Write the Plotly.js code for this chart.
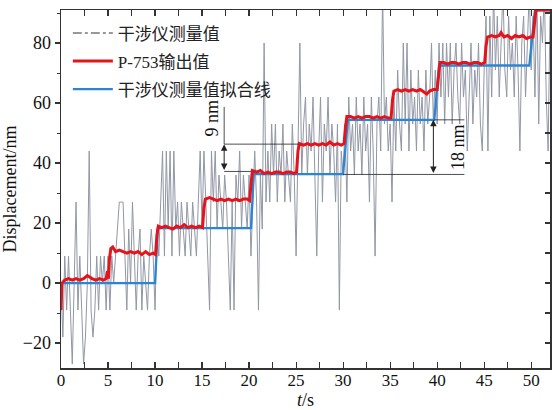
<!DOCTYPE html>
<html>
<head>
<meta charset="utf-8">
<script src="https://cdn.plot.ly/plotly-3.0.1.min.js"></script>
<style>html,body{margin:0;padding:0;background:#fff;}#chart{width:552px;height:410px;}</style>
</head>
<body>
<div id="chart"></div>
<script>
// ---- data ----
const grayT0 = 0;
const grayDt = 0.2;
const grayY = [
  0,-18,9,-9,9,-9,-27,0,27,-9,9,-9,-27,-18,0,44,-9,-18,-9,9,-9,9,0,9,-9,
  9,-9,9,0,9,18,27,27,27,9,-9,18,0,27,9,-9,9,18,-9,9,0,-9,9,18,9,
  -9,18,9,27,44,9,44,18,44,9,44,18,27,9,27,18,9,27,18,9,27,18,9,27,44,
  18,44,27,9,-9,44,27,44,18,36,27,18,36,27,9,-9,27,-9,36,27,44,18,36,27,18,
  36,9,27,44,27,-9,36,18,80,27,44,27,53,36,53,27,44,36,53,27,44,36,27,53,36,
  9,44,80,36,53,62,36,53,44,62,36,9,44,62,27,53,44,62,36,53,44,27,53,-9,44,
  36,53,27,62,44,53,36,62,44,53,36,62,44,53,27,62,44,9,53,62,44,98,53,62,44,
  53,27,62,44,71,53,44,80,53,80,44,71,53,62,44,71,53,62,44,71,53,62,80,53,71,
  53,80,62,80,53,80,62,80,53,71,80,62,53,80,62,71,44,62,80,53,71,62,80,53,44,
  71,89,44,89,62,98,71,89,62,80,98,71,62,89,71,80,62,89,71,44,80,89,62,80,98,
  71,89,62,98,53,89,80,98,62,44,89
];

const redT = [0,0.1,0.4,0.8,1.2,1.6,2.0,2.4,2.8,3.0,3.3,3.7,4.1,4.5,4.8,4.95,5.05,5.15,5.3,5.5,5.8,6.2,6.6,7.0,7.4,7.8,8.2,8.6,9.0,9.4,9.8,10.05,10.2,10.35,10.7,11.1,11.5,11.9,12.3,12.7,13.1,13.5,13.9,14.3,14.7,15.05,15.2,15.35,15.8,16.2,16.6,17.0,17.4,17.8,18.2,18.6,19.0,19.4,19.8,20.05,20.2,20.35,20.8,21.2,21.6,22.0,22.4,22.8,23.2,23.6,24.0,24.4,24.8,25.05,25.2,25.35,25.8,26.2,26.6,27.0,27.4,27.8,28.2,28.6,29.0,29.4,29.8,30.1,30.25,30.4,30.8,31.2,31.6,32.0,32.4,32.8,33.2,33.6,34.0,34.4,34.8,35.1,35.25,35.4,35.8,36.2,36.6,37.0,37.4,37.8,38.2,38.6,38.9,39.2,39.6,40.0,40.15,40.3,40.7,41.1,41.5,41.9,42.3,42.7,43.1,43.5,43.9,44.3,44.7,45.05,45.2,45.35,45.8,46.2,46.6,46.8,47.1,47.5,47.9,48.3,48.7,49.1,49.5,49.9,50.2,50.35,50.5,51,52];
const redY = [-9,0,1,1.5,1,1.5,1,1.5,2.5,2,1.5,1,1.5,1,1.5,4,1.5,8,11.5,12,10.5,11,10.5,10,10.5,10,10.5,9.5,10.5,9.5,10,9.5,16,19,18.5,19,18.5,18,19,18.5,19.5,18.5,19,18.5,19,18.5,25,28,28.5,28,27.5,28,27.5,28,27.5,28,27.5,28,28,27.5,34,37.5,37,37.5,36.5,37,36.5,37,37,36.5,37,37,36.5,37,44,46.5,46,46.5,46,46.5,46,46.5,46,47,46,46.5,46,46.5,52,55.5,55.5,55,55.5,55,55.5,55.5,55,55.5,55,55.5,55,55,61,64,64.5,64,64.5,64,64.5,64,64.5,63.5,63,64,64.5,64.5,70,73.5,73.5,73,73.5,73.5,73,73.5,73.5,73,73.5,73.5,73,73.5,79,82,82.5,82,82.5,83.5,82,82.5,81.5,82.5,82,82.5,81.5,82,82,88,91,91,91];

const blueT = [0,10.0,10.3,20.2,20.5,30.0,30.5,39.7,40.2,49.8,50.4,52];
const blueY = [0,0,18.3,18.3,36.3,36.3,54.4,54.4,72.5,72.5,91,91];

const legendNames = ['干涉仪测量值','P-753输出值','干涉仪测量值拟合线'];
const xTitle = '<i>t</i>/s';
const yTitle = 'Displacement/nm';

// dimension annotations (data coords)
const dim9  = {t:17.35, lo:37.2, hi:46.3, top:58.7, lineEndLo:20.2, lineEndHi:25.3, label:'9 nm', labelT:16.1, labelY:55};
const dim18 = {t:39.6, lo:36.2, hi:54.4, lineStartLo:30.0, lineStartHi:39.7, lineEnd:42.9, label:'18 nm', labelT:42.2, labelY:45.3};

// ---- styles ----
const serif = '"Liberation Serif", "Times New Roman", "Noto Sans CJK SC", serif';
const grayColor = '#9197a5';
const redColor = '#e3141c';
const blueColor = '#2a86d4';

const traces = [
  {type:'scatter', mode:'lines', x0:grayT0, dx:grayDt, y:grayY,
   line:{color:grayColor, width:1}, showlegend:false, hoverinfo:'skip'},
  {type:'scatter', mode:'lines', x:[null], y:[null], name:legendNames[0], legendrank:1, legendgroup:'g1',
   line:{color:'#777', width:1.5, dash:'dashdot'}},
  {type:'scatter', mode:'lines', x:blueT, y:blueY, name:legendNames[2], legendrank:3, legendgroup:'g3',
   line:{color:blueColor, width:2.3}},
  {type:'scatter', mode:'lines', x:redT, y:redY, name:legendNames[1], legendrank:2, legendgroup:'g2',
   line:{color:redColor, width:3}},
  {type:'scatter', mode:'lines', x:[null], y:[null], yaxis:'y2', showlegend:false, hoverinfo:'skip'}
];

const lineStyle = {color:'#222', width:0.8};
const shapes = [
  {type:'line', xref:'x', yref:'y', x0:dim9.t, x1:dim9.lineEndHi, y0:dim9.hi, y1:dim9.hi, line:lineStyle},
  {type:'line', xref:'x', yref:'y', x0:dim9.t, x1:dim9.lineEndLo, y0:dim9.lo, y1:dim9.lo, line:lineStyle},
  {type:'line', xref:'x', yref:'y', x0:dim9.t, x1:dim9.t, y0:dim9.hi, y1:dim9.top, line:lineStyle},
  {type:'line', xref:'x', yref:'y', x0:dim18.lineStartLo, x1:dim18.lineEnd, y0:dim18.lo, y1:dim18.lo, line:lineStyle},
  {type:'line', xref:'x', yref:'y', x0:dim18.lineStartHi, x1:dim18.lineEnd, y0:dim18.hi, y1:dim18.hi, line:lineStyle}
];

const arrowCommon = {xref:'x', yref:'y', axref:'x', ayref:'y', text:'', showarrow:true,
  arrowhead:2, startarrowhead:2, arrowside:'end+start', arrowsize:1.3, startarrowsize:1.3, arrowwidth:1, arrowcolor:'#222', standoff:0, startstandoff:0};
const annotations = [
  Object.assign({}, arrowCommon, {x:dim9.t, y:dim9.hi, ax:dim9.t, ay:dim9.lo}),
  Object.assign({}, arrowCommon, {x:dim18.t, y:dim18.hi, ax:dim18.t, ay:dim18.lo}),
  {xref:'x', yref:'y', x:dim9.labelT, y:dim9.labelY, text:dim9.label, showarrow:false, textangle:-90,
   font:{family:serif, size:18, color:'#111'}},
  {xref:'x', yref:'y', x:dim18.labelT, y:dim18.labelY, text:dim18.label, showarrow:false, textangle:-90,
   font:{family:serif, size:18, color:'#111'}}
];

const layout = {
  width:552, height:410,
  margin:{l:61, r:2, t:10, b:42, pad:0},
  paper_bgcolor:'#fff', plot_bgcolor:'#fff',
  font:{family:serif, size:18, color:'#111'},
  showlegend:true,
  legend:{x:0.014, y:0.985, xanchor:'left', yanchor:'top', bgcolor:'rgba(0,0,0,0)',
          traceorder:'grouped', tracegroupgap:3,
          font:{family:serif, size:17, color:'#222'}, itemwidth:40},
  xaxis:{range:[0,52], tick0:0, dtick:5, ticks:'inside', ticklen:6, tickwidth:1.2, tickcolor:'#333',
         minor:{dtick:2.5, ticks:'inside', ticklen:3, tickwidth:1, tickcolor:'#333'},
         showline:true, linecolor:'#333', linewidth:1.5, mirror:'allticks',
         ticklabelstandoff:-4,
         showgrid:false, zeroline:false, tickfont:{family:serif, size:17, color:'#111'},
         title:{text:xTitle, font:{family:serif, size:18, color:'#111'}, standoff:9}},
  yaxis:{range:[-28.3,91], tick0:0, dtick:20, ticks:'outside', ticklen:5, tickwidth:1.2, tickcolor:'#333',
         minor:{dtick:10, ticks:'outside', ticklen:3, tickwidth:1, tickcolor:'#333'},
         showline:true, linecolor:'#333', linewidth:1.5, mirror:true,
         showgrid:false, zeroline:false, tickfont:{family:serif, size:18, color:'#111'},
         title:{text:yTitle, font:{family:serif, size:18, color:'#111'}, standoff:4}},
  yaxis2:{range:[-28.3,91], overlaying:'y', side:'right', tick0:0, dtick:10, ticks:'inside', ticklen:5,
          tickwidth:1.2, tickcolor:'#333', showticklabels:false, showgrid:false, zeroline:false, showline:false},
  shapes:shapes,
  annotations:annotations
};

Plotly.newPlot('chart', traces, layout, {staticPlot:true, displayModeBar:false});
</script>
</body>
</html>
